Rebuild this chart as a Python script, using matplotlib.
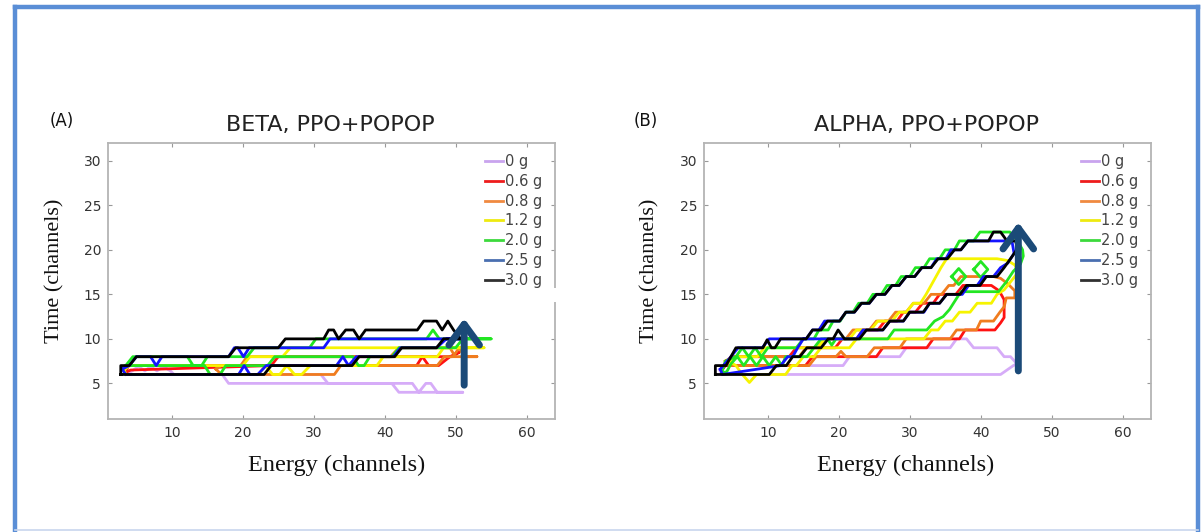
import matplotlib.pyplot as plt
from matplotlib.lines import Line2D
from matplotlib.patches import Rectangle

# --- contour outlines, (energy, time) vertices --------------------------------
labels = ['0 g', '0.6 g', '0.8 g', '1.2 g', '2.0 g', '2.5 g', '3.0 g']
line_colors = ['#d6acf8', '#ff1212', '#f07c1e', '#f6f400', '#22e622', '#1414ff', '#000000']
legend_colors = ['#c9a4ee', '#ee1c1c', '#f08a40', '#eeea10', '#3cd93c', '#4a6fb0', '#303030']

# (A) BETA
beta_0g = [(3.5, 6), (17.1, 6), (18, 5), (41, 5), (42, 4), (51, 4), (47.4, 4), (46.5, 5), (45.8, 5),
           (44.8, 4), (43.9, 5), (32, 5), (31, 6), (10.3, 6), (9.8, 6.4), (8.8, 6.9), (7.9, 6.4),
           (7, 6.9), (6.2, 6.4), (5.3, 6.9), (4.4, 6.4), (3.5, 6)]
beta_06g = [(3.4, 6.2), (3.9, 7), (44.5, 7), (45.3, 8), (46.2, 7), (47.6, 7), (49.2, 8), (50.5, 8.5),
            (49.5, 8), (25, 8), (24, 7), (4.2, 6.5), (3.4, 6.2)]
beta_08g = [(16.2, 6.6), (17, 7), (19.7, 7), (20.6, 8), (40.8, 8), (42, 9), (49.2, 9), (49.8, 8.2),
            (50.5, 9), (51.2, 8), (53, 8), (48.4, 8), (47.4, 7), (33.8, 7), (32.9, 6), (17, 6), (16.2, 6.6)]
beta_12g = [(3.3, 6.5), (4, 7), (20, 7), (21, 8), (25.6, 8), (26.7, 9), (54, 9), (48.3, 9), (47.4, 8),
            (39.8, 8), (38.9, 7), (29.5, 7), (28.3, 6), (27.3, 6), (26.2, 7), (25.2, 6), (24.2, 6),
            (23.2, 7), (22.2, 6), (3.5, 6), (3.3, 6.5)]
beta_20g = [(3.5, 7), (4.5, 8), (12.2, 8), (13, 7), (14.2, 7), (15, 8), (20.6, 8), (21.6, 9), (29.4, 9),
            (30.3, 10), (45.9, 10), (46.8, 11), (47.7, 10), (55, 10), (51, 10), (50, 9), (42, 9),
            (41, 8), (37.9, 8), (37.1, 7), (36.3, 7), (35.5, 8), (24.5, 8), (23.5, 7), (17.6, 7),
            (16.8, 6), (15.4, 6), (14.6, 7), (3.5, 7)]
beta_25g = [(3, 6.6), (4, 7), (5, 8), (7, 8), (7.8, 7), (8.6, 8), (18, 8), (18.8, 9), (19.3, 9), (20.1, 8),
            (20.9, 9), (31.4, 9), (32.3, 10), (50, 10), (50.6, 10), (48.7, 10), (47.3, 9), (42.2, 9),
            (41.2, 8), (36, 8), (34.9, 7), (34.1, 8), (33.2, 7), (23.3, 7), (22.1, 6), (21, 6),
            (20.2, 7), (19.4, 6), (3.5, 6), (3, 6.6)]
beta_30g = [(2.8, 6), (2.8, 7), (4, 7), (5, 8), (18, 8), (19, 9), (25, 9), (26, 10), (31.4, 10),
            (32.1, 11), (32.8, 11), (33.5, 10), (34.5, 11), (35.6, 11), (36.4, 10), (37.3, 11),
            (44.6, 11), (45.5, 12), (47.3, 12), (48.1, 11), (48.9, 12), (49.7, 11), (50.7, 10),
            (49.2, 10), (48.3, 10), (47.3, 9), (42.4, 9), (41.4, 8), (36.4, 8), (35.4, 7), (24, 7),
            (23, 6), (2.8, 6)]

# (B) ALPHA
alpha_0g = [(3.2, 6.5), (4, 7), (20.6, 7), (21.5, 8), (28.6, 8), (29.5, 9), (35.7, 9), (36.6, 10),
            (38, 10), (39, 9), (42.3, 9), (43.3, 8), (44.2, 8), (45.1, 7.2), (44.6, 7), (42.8, 6),
            (3.5, 6), (3.2, 6.5)]
alpha_06g = [(3.5, 6.5), (4.8, 8), (13, 8), (14, 9), (19.5, 9), (20.5, 10), (22.5, 10), (23.4, 11),
             (25.5, 11), (26.5, 12), (28.2, 12), (29.1, 13), (30.8, 13), (31.8, 14), (33.3, 14),
             (34.2, 15), (36.5, 15), (37.5, 16), (41.5, 16), (42.6, 15.4), (43.3, 14.4), (43.3, 12.4),
             (42.8, 11.8), (42, 11), (37.8, 11), (37, 10), (33.3, 10), (32.4, 9), (26.2, 9), (25.3, 8),
             (16.3, 8), (15.3, 7), (4, 7), (3.5, 6.5)]
alpha_08g = [(4, 7.5), (5, 8), (14.4, 8), (15.4, 9), (17, 9), (18, 10), (21, 10), (22, 11), (24.3, 11),
             (25.3, 12), (27, 12), (28, 13), (29.5, 13), (30.5, 14), (32, 14), (33, 15), (34.5, 15),
             (35.5, 16), (36.2, 16), (37.2, 17), (41.8, 17), (42.8, 16.8), (43.8, 16.2), (44.8, 15.4),
             (44.8, 14.6), (43.6, 14.6), (43.3, 13.6), (42.7, 13), (41.8, 12), (40, 12), (39.4, 11),
             (36.6, 11), (35.7, 10), (29.5, 10), (28.6, 9), (25, 9), (24, 8), (21, 8), (20.3, 8.6),
             (19.6, 8), (16.8, 8), (15.8, 7), (4.5, 7), (4, 7.5)]
alpha_12g = [(4.5, 7.5), (5.5, 8), (8.5, 8), (9.5, 9), (17, 9), (18, 10), (21.5, 10), (22.5, 11),
             (24.5, 11), (25.5, 12), (27.5, 12), (28.5, 13), (29.5, 13), (30.5, 14), (31.5, 14),
             (32.3, 15), (33, 16), (33.7, 17), (34.4, 18), (35.2, 19), (42.3, 19), (43.8, 18.8),
             (44.8, 18.3), (45.3, 17.5), (44.3, 16.5), (43.3, 15.5), (42.3, 15), (41.5, 14), (39.5, 14),
             (38.5, 13), (37, 13), (36, 12), (35, 12), (34, 11), (33, 11), (32, 10), (22.5, 10),
             (21.5, 9), (17.5, 9), (16.5, 8), (15, 8), (14, 7), (13.4, 7), (12.5, 6), (8.4, 6),
             (7.4, 5.1), (6.4, 6), (5.5, 7), (4.5, 7.5)]
alpha_20g = [(3.5, 6.2), (4, 7.5), (5.5, 8), (6.4, 9), (7.3, 8), (8.2, 9), (9.1, 8), (10, 9), (14, 9),
             (15, 10), (16.5, 10), (17.2, 11), (18.5, 11), (19.2, 12), (20.2, 12), (21, 13), (22, 13),
             (22.8, 14), (24, 14), (24.8, 15), (26, 15), (26.8, 16), (28, 16), (28.8, 17), (30, 17),
             (30.8, 18), (32, 18), (32.8, 19), (34.2, 19), (35, 20), (36.3, 20), (37, 21), (39, 21),
             (39.9, 22), (44.1, 22), (45.2, 21), (45.9, 20), (46, 19.3), (45.6, 18.4), (44.6, 17.6),
             (43.6, 16.4), (42.5, 15.3), (37.2, 15.3), (36.4, 14.3), (35.6, 13.3), (34.7, 12.5),
             (33.5, 12), (32.4, 11), (27.8, 11), (26.9, 10), (19.6, 10), (19, 9.3), (18.4, 10),
             (17.5, 10), (16.5, 9), (15.5, 8), (12.5, 8), (12, 7), (11.1, 8), (10.2, 7), (9.3, 8),
             (8.4, 7), (7.5, 8), (6.6, 7), (5.7, 8), (4.8, 7.2), (4.2, 6.3), (3.5, 6.2)]
alpha_20g_d1 = [(35.9, 17), (36.9, 17.9), (37.9, 17), (36.9, 16.1), (35.9, 17)]
alpha_20g_d2 = [(39, 17.8), (40, 18.7), (41, 17.8), (40, 16.9), (39, 17.8)]
alpha_25g = [(3.3, 6.6), (4.8, 8), (5.8, 9), (9.2, 9), (10.2, 10), (15.4, 10), (16.3, 11), (17.2, 11),
             (18, 12), (20.1, 12), (21, 13), (22.2, 13), (23.2, 14), (24.3, 14), (25.3, 15), (26.5, 15),
             (27.5, 16), (28.5, 16), (29.5, 17), (30.7, 17), (31.7, 18), (33, 18), (33.8, 19),
             (35.1, 19), (35.8, 20), (37.2, 20), (38.2, 21), (44.4, 21), (44.7, 19.6), (43.8, 18.5),
             (42.8, 18), (41.8, 17), (40.4, 17), (39.5, 16), (38.3, 16), (37.4, 15), (35.2, 15),
             (34.2, 14), (32.8, 14), (32, 13), (30, 13), (29.1, 12), (27.2, 12), (26.2, 11), (23.4, 11),
             (22.5, 10), (15, 10), (14.2, 9), (13.5, 8), (12.8, 8), (11.8, 7), (3.6, 6), (3.3, 6.6)]
alpha_30g = [(2.6, 6), (2.6, 7), (4.1, 7), (5.5, 9), (9.3, 9), (9.9, 9.9), (10.5, 9), (11, 9), (11.8, 10),
             (15.4, 10), (16.3, 11), (17.5, 11), (18.4, 12), (20.1, 12), (21, 13), (22.2, 13),
             (23.2, 14), (24.3, 14), (25.3, 15), (26.5, 15), (27.5, 16), (28.5, 16), (29.5, 17),
             (30.7, 17), (31.7, 18), (33, 18), (34, 19), (35.3, 19), (36.3, 20), (37.2, 20), (38.2, 21),
             (41.1, 21), (41.8, 22), (42.8, 22), (43.7, 21), (44.9, 21), (45.2, 20.2), (44.9, 19.8),
             (44.2, 19), (43.3, 18), (42.3, 17), (40.8, 17), (39.9, 16), (38, 16), (37.1, 15),
             (35.2, 15), (34.2, 14), (32.8, 14), (31.9, 13), (30, 13), (29.1, 12), (27.2, 12),
             (26.2, 11), (23.9, 11), (22.9, 10), (20.8, 10), (19.9, 11), (19.2, 10), (18.5, 10),
             (17.5, 9), (15.5, 9), (14.5, 8), (13.5, 8), (12.6, 7), (11.2, 7), (10.2, 6), (2.6, 6)]

beta_series = [[beta_0g], [beta_06g], [beta_08g], [beta_12g], [beta_20g], [beta_25g], [beta_30g]]
alpha_series = [[alpha_0g], [alpha_06g], [alpha_08g], [alpha_12g],
                [alpha_20g, alpha_20g_d1, alpha_20g_d2], [alpha_25g], [alpha_30g]]

# arrows (energy, time start, time end)
beta_arrow = (51.2, 4.8, 12.3)
alpha_arrow = (45.3, 6.4, 23.1)

x_ticks = [10, 20, 30, 40, 50, 60]
y_ticks = [5, 10, 15, 20, 25, 30]

W, H = 1202, 532
fig = plt.figure(figsize=(W / 100, H / 100), dpi=100)


def fx(px):
    return px / W


def fy(py):
    return 1 - py / H


def draw_panel(left_px, series, arrow, title, tag, tag_x, title_x, ylab_x, xlab_x):
    ax = fig.add_axes([fx(left_px), fy(419), 447 / W, 276 / H])
    for pieces, col in zip(series, line_colors):
        for pts in pieces:
            xs, ys = zip(*pts)
            ax.plot(xs, ys, color=col, lw=2.0, solid_joinstyle='round')
    ax.set_xlim(1, 64)
    ax.set_ylim(1, 32)
    ax.set_xticks(x_ticks)
    ax.set_yticks(y_ticks)
    ax.tick_params(direction='in', length=3, width=0.8, color='#999999', top=True, right=True,
                   labelsize=10, labelcolor='#333333', pad=5)
    for sp in ax.spines.values():
        sp.set_color('#b4b4b4')
        sp.set_linewidth(1.3)
    handles = [Line2D([], [], color=c, lw=2) for c in legend_colors]
    leg = ax.legend(handles, labels, loc='upper left', bbox_to_anchor=(0.843, 0.96), frameon=False,
                    fontsize=10.5, handlelength=1.25, handletextpad=0.15, labelspacing=0.33,
                    borderpad=0, borderaxespad=0)
    for t in leg.get_texts():
        t.set_color('#444444')
    ax.annotate('', xy=(arrow[0], arrow[2]), xytext=(arrow[0], arrow[1]),
                arrowprops=dict(arrowstyle='->,head_length=0.75,head_width=0.55', color='#1b4a78',
                                lw=5, mutation_scale=20, shrinkA=0, shrinkB=0))
    fig.text(fx(title_x), fy(125), title, ha='center', va='center', fontsize=16, color='#222222')
    fig.text(fx(tag_x), fy(121), tag, ha='center', va='center', fontsize=12, color='#111111')
    fig.text(fx(ylab_x), fy(271), 'Time (channels)', rotation=90, ha='center', va='center',
             fontsize=16, family='Liberation Serif', color='#111111')
    fig.text(fx(xlab_x), fy(465), 'Energy (channels)', ha='center', va='center',
             fontsize=17.5, family='Liberation Serif', color='#111111')
    return ax


ax_a = draw_panel(108, beta_series, beta_arrow, 'BETA, PPO+POPOP', '(A)', 62, 330, 55, 337)
ax_b = draw_panel(704, alpha_series, alpha_arrow, 'ALPHA, PPO+POPOP', '(B)', 646, 926, 650, 906)

# small gap in the right border of panel A
fig.add_artist(Rectangle((fx(551), fy(302)), 8 / W, 14 / H, transform=fig.transFigure,
                         facecolor='white', edgecolor='none', zorder=5))

# blue slide frame
frame = '#5a8ed6'
fig.add_artist(Line2D([fx(15), fx(15)], [fy(7), fy(531)], color=frame, lw=3.2, transform=fig.transFigure))
fig.add_artist(Line2D([fx(15), fx(1198)], [fy(7), fy(7)], color=frame, lw=3.2, transform=fig.transFigure))
fig.add_artist(Line2D([fx(1198), fx(1198)], [fy(7), fy(531)], color=frame, lw=3.2, transform=fig.transFigure))
fig.add_artist(Line2D([fx(15), fx(1198)], [fy(530), fy(530)], color='#c8d6ee', lw=1.2,
                      transform=fig.transFigure))

fig.savefig('out.png', dpi=100)
